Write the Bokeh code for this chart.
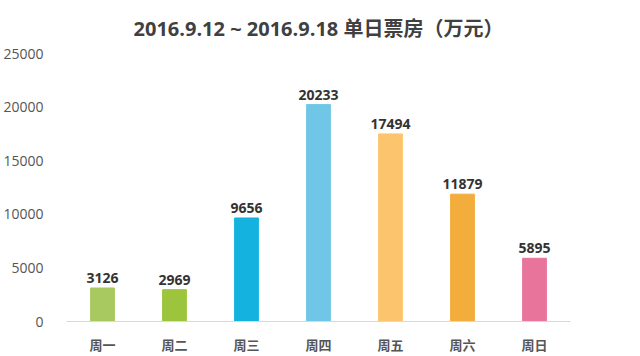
from bokeh.plotting import figure
from bokeh.models import ColumnDataSource, LabelSet, Range1d, FactorRange, FixedTicker
from bokeh.core.properties import value
from bokeh.embed import file_html
from bokeh.resources import INLINE

days = ["周一", "周二", "周三", "周四", "周五", "周六", "周日"]
values = [3126, 2969, 9656, 20233, 17494, 11879, 5895]
colors = ["#a7c95f", "#9cc43d", "#13b2df", "#70c6e6", "#fcc56d", "#f2ad3d", "#e8749c"]
y_ticks = [0, 5000, 10000, 15000, 20000, 25000]
title_text = "2016.9.12 ~ 2016.9.18 单日票房（万元）"

source = ColumnDataSource(dict(day=days, value=values, color=colors,
                               label=[str(v) for v in values]))

p = figure(width=640, height=356, output_backend="svg", toolbar_location=None,
           x_range=FactorRange(factors=days, range_padding=0),
           y_range=Range1d(0, 25000),
           min_border_left=64, min_border_right=70, min_border_top=52,
           min_border_bottom=34)

p.vbar(x="day", top="value", width=0.33, color="color", source=source)

labels = LabelSet(x="day", y="value", text="label", source=source,
                  text_align="center", text_baseline="bottom", y_offset=5,
                  text_font=value("Open Sans"), text_font_size="14px",
                  text_font_style="bold", text_color="#333333")
p.add_layout(labels)

p.title.text = title_text
p.title.align = "center"
p.title.text_font = "Open Sans, Noto Sans CJK SC"
p.title.text_font_size = "20px"
p.title.text_font_style = "bold"
p.title.text_color = "#404040"
p.title.standoff = 24

p.xgrid.grid_line_color = None
p.ygrid.grid_line_color = None
p.outline_line_color = None

p.yaxis.ticker = FixedTicker(ticks=y_ticks)
p.yaxis.axis_line_color = None
p.yaxis.major_tick_line_color = None
p.yaxis.minor_tick_line_color = None
p.yaxis.major_label_standoff = 17
p.yaxis.major_label_text_font = "Open Sans"
p.yaxis.major_label_text_font_size = "14px"
p.yaxis.major_label_text_color = "#555555"

p.xaxis.axis_line_color = "#d9d9d9"
p.xaxis.major_tick_line_color = None
p.xaxis.minor_tick_line_color = None
p.xaxis.major_label_standoff = 7
p.xaxis.major_label_text_font = "Noto Sans CJK SC"
p.xaxis.major_label_text_font_size = "13px"
p.xaxis.major_label_text_font_style = "bold"
p.xaxis.major_label_text_color = "#555555"

open("out.html", "w").write(file_html(p, INLINE))
